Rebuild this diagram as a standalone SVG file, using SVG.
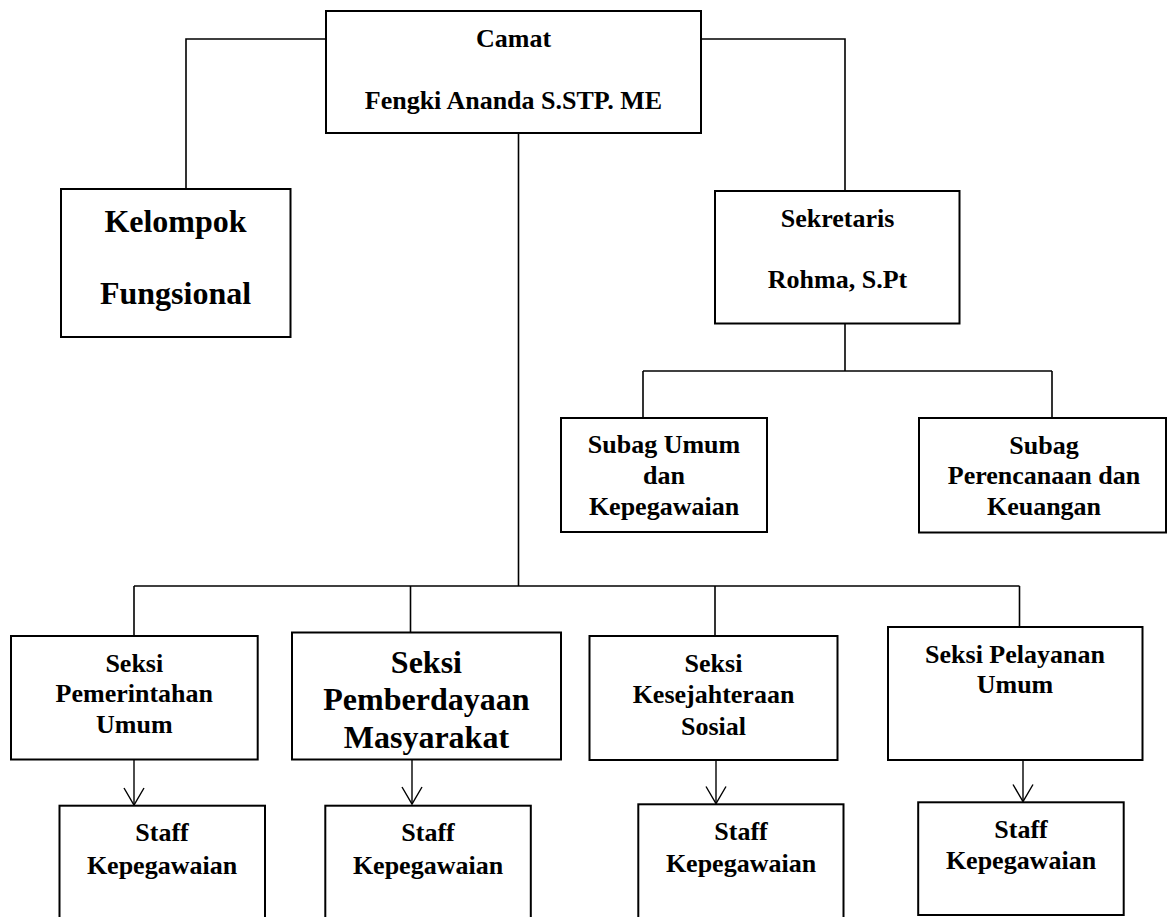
<svg xmlns="http://www.w3.org/2000/svg" width="1167" height="917" viewBox="0 0 1167 917">
<style>
.box{fill:#fff;stroke:#000;stroke-width:2}
.t{font-family:"Liberation Serif","Times New Roman",serif;font-weight:bold;font-size:26px;text-anchor:middle;fill:#000}
.big{font-size:32px}
.c{fill:none;stroke:#000;stroke-width:1.6}
.a{fill:none;stroke:#000;stroke-width:1.4}
</style>
<defs>
<marker id="v" viewBox="0 0 20 22" markerWidth="20" markerHeight="22" refX="18" refY="11" orient="auto" markerUnits="userSpaceOnUse">
<path d="M1,1 L18,11 L1,21" fill="none" stroke="#000" stroke-width="1.4"/>
</marker>
</defs>
<rect width="1167" height="917" fill="#fff"/>
<g id="connectors">
<path class="c" d="M326,39 H186 V189"/>
<path class="c" d="M701,39 H845 V191"/>
<path class="c" d="M518.5,133 V586"/>
<path class="c" d="M134,586 H1019.5"/>
<path class="c" d="M134,586 V636"/>
<path class="c" d="M410.5,586 V632.5"/>
<path class="c" d="M715,586 V636"/>
<path class="c" d="M1019.5,586 V627"/>
<path class="c" d="M845,323.5 V371"/>
<path class="c" d="M643,371 H1052"/>
<path class="c" d="M643,371 V418"/>
<path class="c" d="M1052,371 V418"/>
<path class="a" d="M134,760 V805" marker-end="url(#v)"/>
<path class="a" d="M412,758 V804" marker-end="url(#v)"/>
<path class="a" d="M716,758 V803.5" marker-end="url(#v)"/>
<path class="a" d="M1023,758 V801.5" marker-end="url(#v)"/>
</g>
<g id="camat">
<rect class="box" x="326" y="11" width="375" height="122"/>
<text class="t" x="513.5" y="47">Camat</text>
<text class="t" x="513.5" y="109">Fengki Ananda S.STP. ME</text>
</g>
<g id="kelompok">
<rect class="box" x="61" y="189" width="229.5" height="148"/>
<text class="t big" x="175.5" y="231.5">Kelompok</text>
<text class="t big" x="175.5" y="303.5">Fungsional</text>
</g>
<g id="sekretaris">
<rect class="box" x="715" y="191" width="244.5" height="132.5"/>
<text class="t" x="837.5" y="227">Sekretaris</text>
<text class="t" x="837.5" y="287.5">Rohma, S.Pt</text>
</g>
<g id="subag-umum">
<rect class="box" x="561" y="418" width="206" height="114"/>
<text class="t" x="664" y="453">Subag Umum</text>
<text class="t" x="664" y="483.5">dan</text>
<text class="t" x="664" y="515">Kepegawaian</text>
</g>
<g id="subag-perencanaan">
<rect class="box" x="919" y="418" width="247" height="114.5"/>
<text class="t" x="1044" y="453.5">Subag</text>
<text class="t" x="1044" y="483.5">Perencanaan dan</text>
<text class="t" x="1044" y="515">Keuangan</text>
</g>
<g id="seksi-pemerintahan">
<rect class="box" x="11" y="636" width="246.7" height="123.5"/>
<text class="t" x="134.3" y="672.3">Seksi</text>
<text class="t" x="134.3" y="701.7">Pemerintahan</text>
<text class="t" x="134.3" y="733.3">Umum</text>
</g>
<g id="seksi-pemberdayaan">
<rect class="box" x="292" y="632.5" width="269" height="127"/>
<text class="t big" x="426.4" y="673.3">Seksi</text>
<text class="t big" x="426.4" y="710">Pemberdayaan</text>
<text class="t big" x="426.4" y="748.3">Masyarakat</text>
</g>
<g id="seksi-kesejahteraan">
<rect class="box" x="589.5" y="636" width="248" height="124"/>
<text class="t" x="713.5" y="671.7">Seksi</text>
<text class="t" x="713.5" y="703.3">Kesejahteraan</text>
<text class="t" x="713.5" y="735">Sosial</text>
</g>
<g id="seksi-pelayanan">
<rect class="box" x="888" y="627" width="254.5" height="133"/>
<text class="t" x="1015" y="663.3">Seksi Pelayanan</text>
<text class="t" x="1015" y="693.3">Umum</text>
</g>
<g id="staff-1">
<rect class="box" x="59.5" y="805.7" width="205.5" height="130"/>
<text class="t" x="162" y="840.7">Staff</text>
<text class="t" x="162" y="874">Kepegawaian</text>
</g>
<g id="staff-2">
<rect class="box" x="325.3" y="805.7" width="205.5" height="130"/>
<text class="t" x="428" y="840.7">Staff</text>
<text class="t" x="428" y="874">Kepegawaian</text>
</g>
<g id="staff-3">
<rect class="box" x="638.3" y="804.3" width="205.2" height="130"/>
<text class="t" x="741" y="840">Staff</text>
<text class="t" x="741" y="871.7">Kepegawaian</text>
</g>
<g id="staff-4">
<rect class="box" x="918.2" y="802.3" width="205.5" height="112.7"/>
<text class="t" x="1021" y="837.7">Staff</text>
<text class="t" x="1021" y="869.3">Kepegawaian</text>
</g>
</svg>
